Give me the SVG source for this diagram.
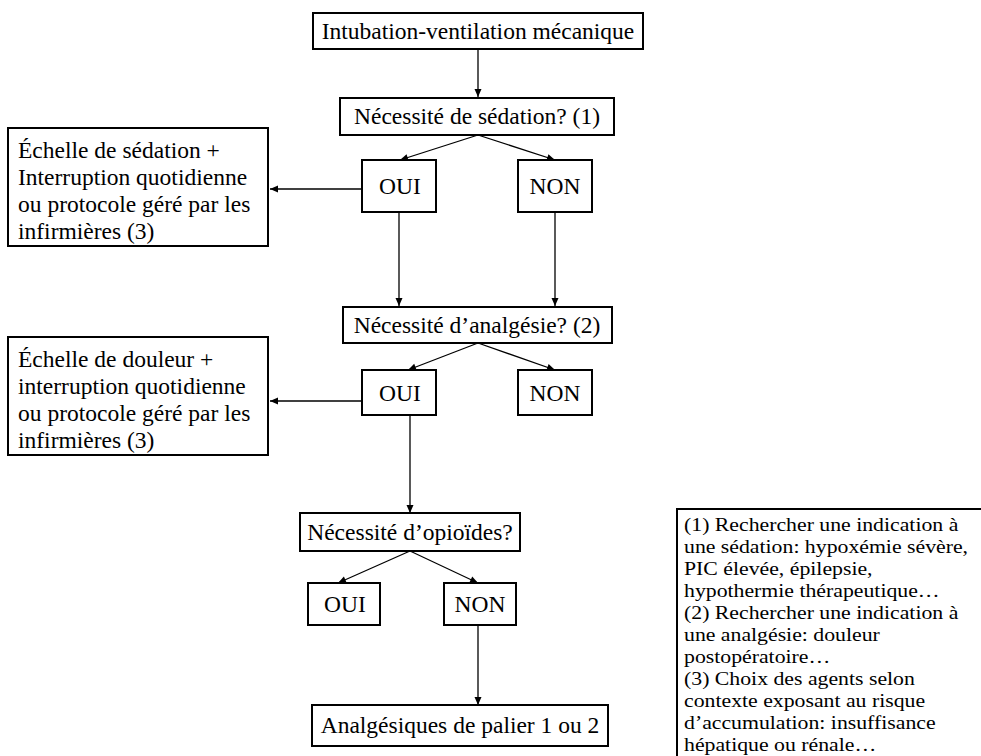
<svg xmlns="http://www.w3.org/2000/svg" width="981" height="756" viewBox="0 0 981 756">
<style>
.box{fill:#fff;stroke:#000;stroke-width:2}
.t{font-family:'Liberation Serif','Times New Roman','DejaVu Serif',serif;font-size:23.5px;fill:#000}
.c{text-anchor:middle}
.l{font-size:19.8px}
.conn{stroke:#000;stroke-width:1.3;fill:none}
</style>
<defs>
<marker id="ah" markerWidth="10" markerHeight="10" refX="9" refY="5" orient="auto" markerUnits="userSpaceOnUse">
<path d="M1,1.5 L9,5 L1,8.5 Z" fill="#000"/>
</marker>
</defs>
<g id="connectors">
<line class="conn" x1="478" y1="49" x2="478" y2="97" marker-end="url(#ah)"/>
<line class="conn" x1="478" y1="135" x2="400" y2="160" marker-end="url(#ah)"/>
<line class="conn" x1="478" y1="135" x2="555" y2="160" marker-end="url(#ah)"/>
<line class="conn" x1="362" y1="189" x2="270" y2="189" marker-end="url(#ah)"/>
<line class="conn" x1="399" y1="212" x2="399" y2="306" marker-end="url(#ah)"/>
<line class="conn" x1="555" y1="212" x2="555" y2="306" marker-end="url(#ah)"/>
<line class="conn" x1="478" y1="343" x2="408" y2="370" marker-end="url(#ah)"/>
<line class="conn" x1="478" y1="343" x2="555" y2="370" marker-end="url(#ah)"/>
<line class="conn" x1="362" y1="401" x2="270" y2="401" marker-end="url(#ah)"/>
<line class="conn" x1="410" y1="415" x2="410" y2="513" marker-end="url(#ah)"/>
<line class="conn" x1="410" y1="551" x2="338" y2="583" marker-end="url(#ah)"/>
<line class="conn" x1="410" y1="551" x2="478" y2="583" marker-end="url(#ah)"/>
<line class="conn" x1="478" y1="626" x2="478" y2="705" marker-end="url(#ah)"/>
</g>
<g id="n-intubation">
<rect class="box" x="313" y="13" width="330" height="36"/>
<text class="t c" x="478" y="39">Intubation-ventilation mécanique</text>
</g>
<g id="n-sedation">
<rect class="box" x="340" y="98" width="274" height="37"/>
<text class="t c" x="477" y="124">Nécessité de sédation? (1)</text>
</g>
<g id="n-oui1">
<rect class="box" x="362" y="160" width="74" height="52"/>
<text class="t c" x="400" y="194">OUI</text>
</g>
<g id="n-non1">
<rect class="box" x="518" y="160" width="74" height="52"/>
<text class="t c" x="555" y="194">NON</text>
</g>
<g id="n-echelle-sedation">
<rect class="box" x="8" y="128" width="260" height="118"/>
<text class="t" x="18" y="158">Échelle de sédation +</text>
<text class="t" x="18" y="185">Interruption quotidienne</text>
<text class="t" x="18" y="212">ou protocole géré par les</text>
<text class="t" x="18" y="239">infirmières (3)</text>
</g>
<g id="n-analgesie">
<rect class="box" x="343" y="307" width="269" height="36"/>
<text class="t c" x="477" y="333">Nécessité d’analgésie? (2)</text>
</g>
<g id="n-oui2">
<rect class="box" x="362" y="370" width="74" height="45"/>
<text class="t c" x="400" y="401">OUI</text>
</g>
<g id="n-non2">
<rect class="box" x="518" y="370" width="74" height="45"/>
<text class="t c" x="555" y="401">NON</text>
</g>
<g id="n-echelle-douleur">
<rect class="box" x="8" y="337" width="260" height="118"/>
<text class="t" x="18" y="367">Échelle de douleur +</text>
<text class="t" x="18" y="394">interruption quotidienne</text>
<text class="t" x="18" y="421">ou protocole géré par les</text>
<text class="t" x="18" y="448">infirmières (3)</text>
</g>
<g id="n-opioides">
<rect class="box" x="300" y="513" width="220" height="38"/>
<text class="t c" x="410" y="540">Nécessité d’opioïdes?</text>
</g>
<g id="n-oui3">
<rect class="box" x="308" y="583" width="72" height="42"/>
<text class="t c" x="345" y="612">OUI</text>
</g>
<g id="n-non3">
<rect class="box" x="444" y="583" width="72" height="42"/>
<text class="t c" x="480" y="612">NON</text>
</g>
<g id="n-palier">
<rect class="box" x="312" y="705" width="296" height="41"/>
<text class="t c" x="460" y="733">Analgésiques de palier 1 ou 2</text>
</g>
<g id="legend">
<path d="M677,757 L677,509 L982,509" fill="none" stroke="#000" stroke-width="2"/>
<g transform="translate(684,0) scale(1.1,1)">
<text class="t l" x="0" y="531">(1) Rechercher une indication à</text>
<text class="t l" x="0" y="553">une sédation: hypoxémie sévère,</text>
<text class="t l" x="0" y="575">PIC élevée, épilepsie,</text>
<text class="t l" x="0" y="597">hypothermie thérapeutique…</text>
<text class="t l" x="0" y="619">(2) Rechercher une indication à</text>
<text class="t l" x="0" y="641">une analgésie: douleur</text>
<text class="t l" x="0" y="663">postopératoire…</text>
<text class="t l" x="0" y="685">(3) Choix des agents selon</text>
<text class="t l" x="0" y="707">contexte exposant au risque</text>
<text class="t l" x="0" y="729">d’accumulation: insuffisance</text>
<text class="t l" x="0" y="751">hépatique ou rénale…</text>
</g>
</g>
</svg>
